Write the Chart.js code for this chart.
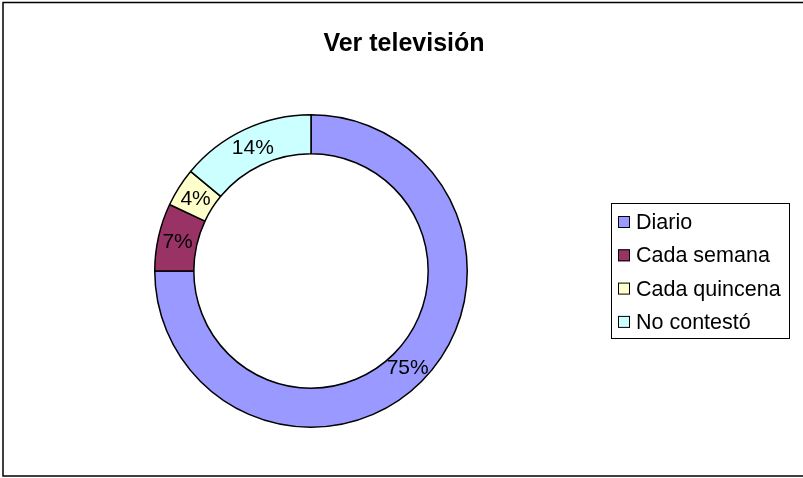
<!DOCTYPE html>
<html>
<head>
<meta charset="utf-8">
<title>Ver televisión</title>
<script src="https://cdn.jsdelivr.net/npm/chart.js@4.4.1/dist/chart.umd.min.js"></script>
<style>
  html, body { margin: 0; padding: 0; background: #fff; }
  #grafico { display: block; }
</style>
</head>
<body>
<canvas id="grafico" width="803" height="478"></canvas>
<script>
// Datos del gráfico
const titulo = 'Ver televisión';
const categorias = ['Diario', 'Cada semana', 'Cada quincena', 'No contestó'];
const porcentajes = [75, 7, 4, 14];
const colores = ['#9999FF', '#993366', '#FFFFCC', '#CCFFFF'];

const FUENTE = '"Liberation Sans", Arial, sans-serif';

// Marco, título, etiquetas y leyenda dibujados a mano
const decoracion = {
    id: 'decoracion',
    beforeDraw(chart) {
        const ctx = chart.ctx;
        ctx.save();
        ctx.fillStyle = '#fff';
        ctx.fillRect(0, 0, chart.width, chart.height);
        ctx.strokeStyle = '#000';
        ctx.lineWidth = 1.5;
        ctx.strokeRect(3, 2.5, 810, 473.5);
        ctx.restore();
    },
    afterDraw(chart) {
        const ctx = chart.ctx;
        ctx.save();

        // título
        ctx.fillStyle = '#000';
        ctx.font = 'bold 25px ' + FUENTE;
        ctx.textAlign = 'center';
        ctx.textBaseline = 'middle';
        ctx.fillText(titulo, 404, 44);

        // porcentajes sobre cada sector
        const meta = chart.getDatasetMeta(0);
        ctx.font = '21px ' + FUENTE;
        meta.data.forEach((arco, i) => {
            const p = arco.getCenterPoint();
            ctx.fillText(porcentajes[i] + '%', p.x, p.y + 1);
        });

        // leyenda
        const lx = 611, ly = 203, lw = 178, lh = 135;
        ctx.strokeStyle = '#000';
        ctx.lineWidth = 1;
        ctx.strokeRect(lx + 0.5, ly + 0.5, lw, lh);
        ctx.textAlign = 'left';
        ctx.font = '21.5px ' + FUENTE;
        categorias.forEach((cat, i) => {
            const y = 222 + i * 33.3;
            ctx.fillStyle = colores[i];
            ctx.fillRect(618, y - 6, 12, 12);
            ctx.strokeRect(618.5, y - 5.5, 11, 11);
            ctx.fillStyle = '#000';
            ctx.fillText(cat, 636, y + 1);
        });

        ctx.restore();
    }
};

new Chart(document.getElementById('grafico'), {
    type: 'doughnut',
    data: {
        labels: categorias,
        datasets: [{
            data: porcentajes,
            backgroundColor: colores,
            borderColor: '#000',
            borderWidth: 1.5
        }]
    },
    options: {
        responsive: false,
        animation: false,
        cutout: '75%',
        layout: { padding: { left: 154, right: 335, top: 114, bottom: 50 } },
        plugins: {
            legend: { display: false },
            title: { display: false },
            tooltip: { enabled: false }
        }
    },
    plugins: [decoracion]
});
</script>
</body>
</html>
